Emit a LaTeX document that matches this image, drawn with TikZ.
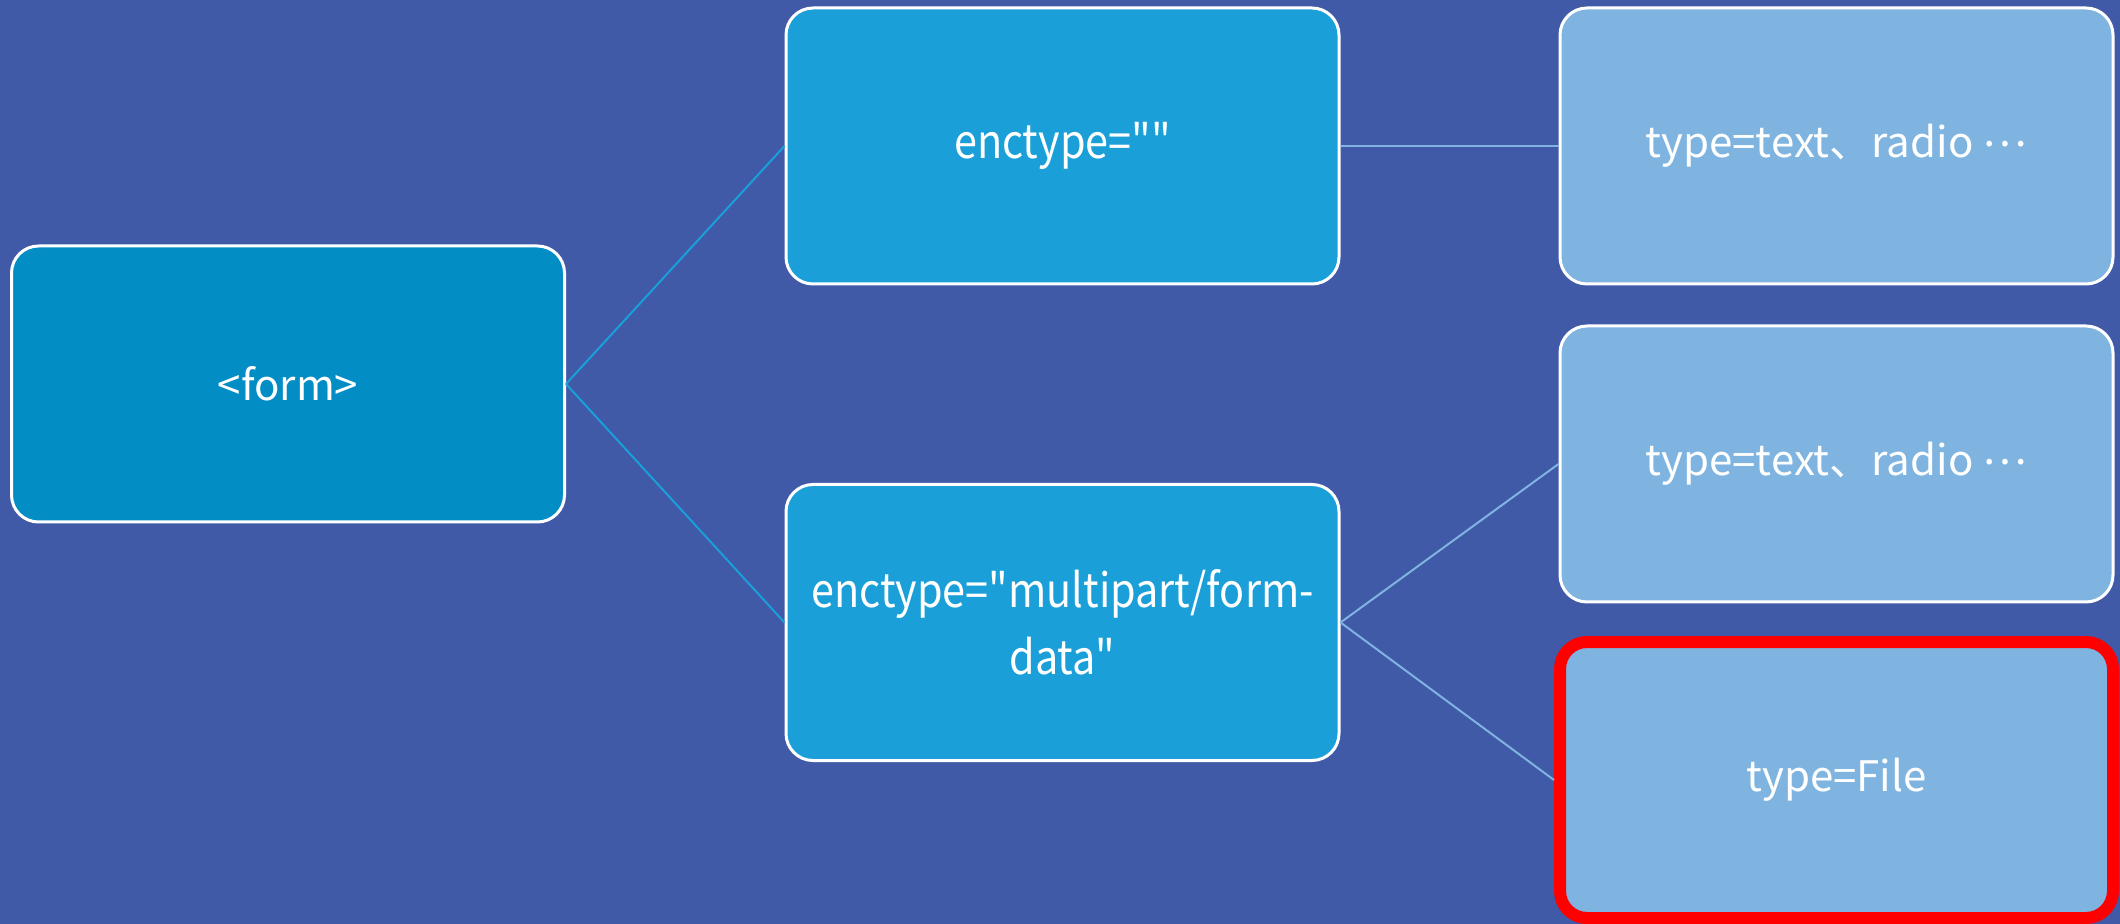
\documentclass[tikz,border=0pt]{standalone}
\usepackage{fontspec}
\setmainfont{Noto Sans CJK JP}[Ligatures=ResetAll]
\newfontfamily\encfont{Noto Sans CJK JP}[Ligatures=ResetAll, FakeStretch=0.88]
\definecolor{bgc}{RGB}{64,90,167}
\definecolor{formc}{RGB}{2,141,197}
\definecolor{encc}{RGB}{27,159,217}
\definecolor{lightc}{RGB}{127,180,224}
\newcommand{\middots}{\raisebox{0.26em}{…}}
\tikzset{
  box/.style={rectangle, rounded corners=13.5pt, draw=white, line width=1.5pt, text=white,
    font=\fontsize{21}{33.5}\selectfont, minimum width=276.5pt, minimum height=138pt,
    inner sep=0pt, align=center},
  encbox/.style={box, fill=encc, font=\encfont\fontsize{23.5}{33.5}\selectfont},
  linkA/.style={draw=encc, line width=1pt},
  linkB/.style={draw=lightc, line width=1pt},
  hilite/.style={draw=red, line width=6pt}
}
\begin{document}
\begin{tikzpicture}[x=0.5pt,y=-0.5pt]
\fill[bgc] (0,0) rectangle (2120,924);
\useasboundingbox (0,0) rectangle (2120,924);
\node[box, fill=formc] (form) at (288,384) {<form>};
\node[encbox] (enc1) at (1062.5,146) {enctype=""};
\node[encbox] (enc2) at (1062.5,622.5) {enctype="multipart/form-\\data"};
\node[box, fill=lightc] (t1) at (1836.5,146) {type=text、radio \middots};
\node[box, fill=lightc] (t2) at (1836.5,464) {type=text、radio \middots};
\node[box, fill=lightc, hilite] (t3) at (1836.5,780) {type=File};
\draw[linkA] (form.east) -- (enc1.west);
\draw[linkA] (form.east) -- (enc2.west);
\draw[linkB] (enc1.east) -- (t1.west);
\draw[linkB] (enc2.east) -- (t2.west);
\draw[linkB] (enc2.east) -- (t3.west);
\end{tikzpicture}
\end{document}
